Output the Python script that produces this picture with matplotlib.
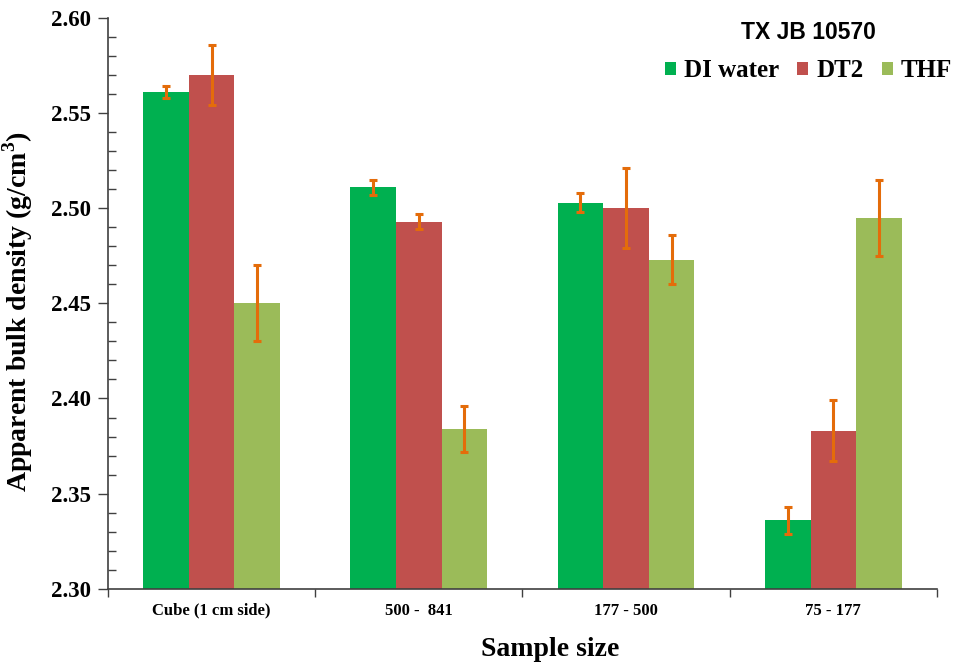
import matplotlib
matplotlib.use("Agg")
import matplotlib.pyplot as plt
import numpy as np
from matplotlib.ticker import MultipleLocator, FixedLocator
from matplotlib.patches import Patch

categories = ["Cube (1 cm side)", "500 -  841", "177 - 500", "75 - 177"]
series_names = ["DI water", "DT2", "THF"]
di_water = [2.561, 2.511, 2.503, 2.336]
dt2 = [2.570, 2.493, 2.500, 2.383]
thf = [2.450, 2.384, 2.473, 2.495]
di_water_err = [0.003, 0.004, 0.005, 0.007]
dt2_err = [0.016, 0.004, 0.021, 0.016]
thf_err = [0.020, 0.012, 0.013, 0.020]
y_ticks = [2.30, 2.35, 2.40, 2.45, 2.50, 2.55, 2.60]

colors = ["#00B050", "#C0504D", "#9BBB59"]
err_color = "#E46C0A"
serif = "Liberation Serif"

fig = plt.figure(figsize=(9.59, 6.66), dpi=100)
ax = fig.add_axes([0.1126, 0.116, 0.8644, 0.857])

x = np.arange(len(categories))
width = 0.22
values = [di_water, dt2, thf]
errors = [di_water_err, dt2_err, thf_err]
base = y_ticks[0]
for i, (vals, errs, col) in enumerate(zip(values, errors, colors)):
    pos = x + (i - 1) * width
    heights = np.array(vals) - base
    ax.bar(pos, heights, width, bottom=base, color=col, edgecolor="none",
           zorder=2)
    ax.errorbar(pos, vals, yerr=errs, fmt="none", ecolor=err_color,
                elinewidth=2.2, capsize=3, capthick=2.2, zorder=3)

ax.set_xlim(-0.5, len(categories) - 0.5)
ax.set_ylim(y_ticks[0], y_ticks[-1])

ax.set_yticks(y_ticks)
ax.set_yticklabels([f"{t:.2f}" for t in y_ticks], fontfamily=serif,
                   fontweight="bold", fontsize=16.5)
ax.yaxis.set_minor_locator(MultipleLocator(0.01))
ax.tick_params(axis="y", which="major", direction="out", length=7,
               width=1, color="#404040", pad=5)
ax.tick_params(axis="y", which="minor", direction="in", length=6,
               width=1, color="#404040")

ax.set_xticks(x)
ax.set_xticklabels(categories, fontfamily=serif, fontweight="bold",
                   fontsize=12)
ax.tick_params(axis="x", which="major", length=0, pad=10)
ax.xaxis.set_minor_locator(FixedLocator(np.arange(-0.5, len(categories), 1.0)))
ax.tick_params(axis="x", which="minor", direction="out", length=6,
               width=1, color="#404040")

for s in ["top", "right"]:
    ax.spines[s].set_visible(False)
for s in ["left", "bottom"]:
    ax.spines[s].set_color("#404040")
    ax.spines[s].set_linewidth(1.2)

ax.set_ylabel("Apparent bulk density (g/cm$^\\mathregular{3}$)",
              fontfamily=serif, fontweight="bold", fontsize=20)
ax.yaxis.set_label_coords(-0.088, 0.485)
ax.set_xlabel("Sample size", fontfamily=serif, fontweight="bold",
              fontsize=20)
ax.xaxis.set_label_coords(0.534, -0.085)

handles = [Patch(facecolor=c, edgecolor="none") for c in colors]
leg = fig.legend(handles, series_names, loc="center", ncol=3,
                 bbox_to_anchor=(0.843, 0.922), frameon=False,
                 prop={"family": serif, "weight": "bold", "size": 18},
                 handlelength=0.45, handleheight=0.45, handletextpad=0.32,
                 columnspacing=0.72, labelspacing=0.6,
                 title="TX JB 10570",
                 title_fontproperties={"family": "Liberation Sans",
                                       "weight": "bold", "size": 16.5})

fig.savefig("out.png", dpi=100)
